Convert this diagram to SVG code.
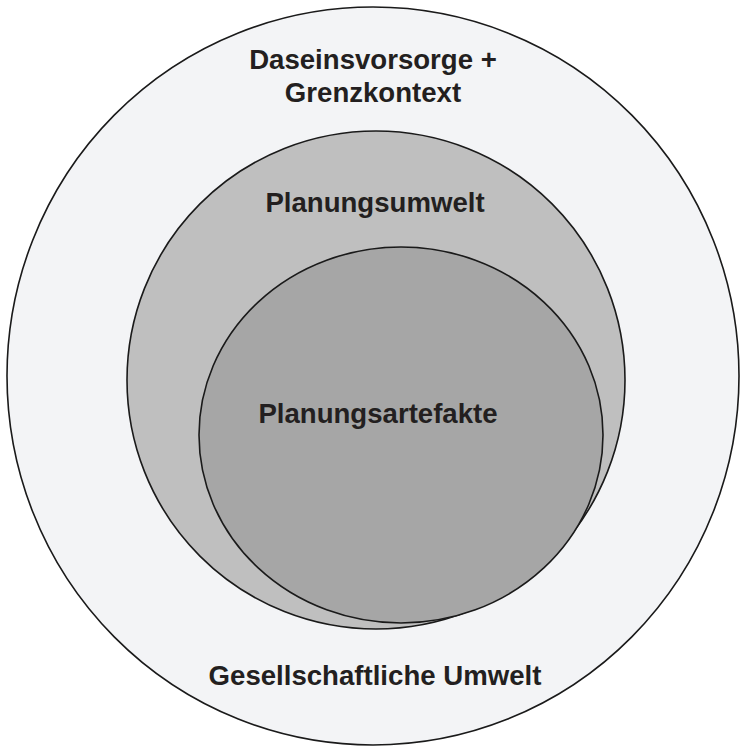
<svg xmlns="http://www.w3.org/2000/svg" width="740" height="750" viewBox="0 0 740 750">
<style>
.c{stroke:#1a1a1a;stroke-width:1.6}
.t{font-family:"Liberation Sans",Arial,sans-serif;font-weight:bold;font-size:27.6px;fill:#231f20;text-anchor:middle}
</style>
<rect width="740" height="750" fill="#ffffff"/>
<g id="outer">
<ellipse class="c" cx="373" cy="376" rx="366" ry="369" fill="#f3f4f6"/>
<text class="t" x="373" y="69">Daseinsvorsorge +</text>
<text class="t" x="373" y="102">Grenzkontext</text>
<text class="t" x="375" y="685">Gesellschaftliche Umwelt</text>
</g>
<g id="middle">
<circle class="c" cx="376" cy="380" r="249" fill="#bfbfbf"/>
<text class="t" x="375" y="212">Planungsumwelt</text>
</g>
<g id="inner">
<ellipse class="c" cx="401" cy="435" rx="202" ry="188" fill="#a6a6a6"/>
<text class="t" x="378" y="423">Planungsartefakte</text>
</g>
<g id="connectors"/>
</svg>
